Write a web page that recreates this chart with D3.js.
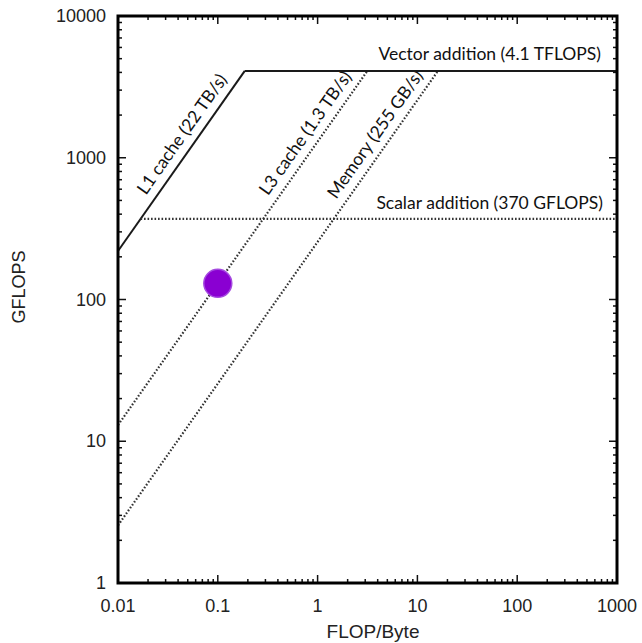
<!DOCTYPE html>
<html>
<head>
<meta charset="utf-8">
<script src="https://cdn.jsdelivr.net/npm/d3@7"></script>
<style>
  body { margin: 0; background: #fff; }
  svg { display: block; }
  .tick-label { font-family: "Liberation Sans", Arial, sans-serif; font-size: 18px; fill: #222; }
  .note { font-family: Lato, "Open Sans", sans-serif; font-size: 17.5px; fill: #111; }
</style>
</head>
<body>
<svg id="chart" width="642" height="643"></svg>
<script>
// axis ticks
var xTicks = [0.01, 0.1, 1, 10, 100, 1000];
var yTicks = [1, 10, 100, 1000, 10000];

// bandwidth roofs (GB/s) - slanted lines
var roofNames = ["L1 cache (22 TB/s)", "L3 cache (1.3 TB/s)", "Memory (255 GB/s)"];
var roofBandwidth = [22000, 1300, 255];
var roofLabelAt = [0.058, 1.0, 5.0];   // FLOP/Byte where the label sits

// compute ceilings (GFLOPS) - flat lines
var ceilingNames = ["Vector addition (4.1 TFLOPS)", "Scalar addition (370 GFLOPS)"];
var ceilingPeak = [4100, 370];

// measured kernel
var pointX = [0.1];
var pointY = [130];

var svg = d3.select("#chart");
// note: "top" is taken by window.top, so use pl/pr/pt/pb
var pl = 118, pr = 617, pt = 16, pb = 583;

var x = d3.scaleLog().domain([0.01, 1000]).range([pl, pr]);
var y = d3.scaleLog().domain([1, 10000]).range([pb, pt]);

var minorX = x.ticks().filter(function(d) { return xTicks.indexOf(d) < 0; });
var minorY = y.ticks().filter(function(d) { return yTicks.indexOf(d) < 0; });

var g = svg.append("g");

function styleLine(line, solid) {
    if (solid) {
        line.attr("stroke", "#1a1a1a").attr("stroke-width", 2);
    } else {
        line.attr("stroke", "#333").attr("stroke-width", 2.2).attr("stroke-dasharray", "1.6,1.9");
    }
}

// roofs
var maxPeak = ceilingPeak[0];
roofBandwidth.forEach(function(bw, i) {
    var x0 = x.domain()[0];
    var x1 = maxPeak / bw;
    var line = g.append("line")
        .attr("x1", x(x0)).attr("y1", y(bw * x0))
        .attr("x2", x(x1)).attr("y2", y(maxPeak));
    styleLine(line, i == 0);
    var ax = roofLabelAt[i];
    var px = x(ax), py = y(bw * ax);
    var angle = Math.atan2(y(bw * ax * 10) - py, x(ax * 10) - px) * 180 / Math.PI;
    g.append("text")
        .attr("class", "note")
        .attr("text-anchor", "middle")
        .attr("transform", "translate(" + px + "," + py + ") rotate(" + angle + ")")
        .attr("y", -9)
        .text(roofNames[i]);
});

// ceilings
ceilingPeak.forEach(function(p, i) {
    var x0 = p / roofBandwidth[0];
    var line = g.append("line")
        .attr("x1", x(x0)).attr("y1", y(p))
        .attr("x2", x(1000)).attr("y2", y(p));
    styleLine(line, i == 0);
});
g.append("text").attr("class", "note").attr("text-anchor", "end")
    .attr("x", 601).attr("y", y(ceilingPeak[0]) - 11).text(ceilingNames[0]);
g.append("text").attr("class", "note").attr("text-anchor", "end")
    .attr("x", 603).attr("y", y(ceilingPeak[1]) - 10).text(ceilingNames[1]);

// point
g.selectAll("circle.pt").data(pointX).enter().append("circle")
    .attr("class", "pt")
    .attr("cx", function(d) { return x(d); })
    .attr("cy", function(d, i) { return y(pointY[i]); })
    .attr("r", 14)
    .attr("fill", "#8a00d2")
    .attr("stroke", "#a54ae0")
    .attr("stroke-width", 1.5);

// ticks on all four sides, pointing inward
var tk = svg.append("g").attr("stroke", "#111").attr("stroke-width", 1.5);
function tickMarks(vals, len) {
    vals.forEach(function(v) {
        tk.append("line").attr("x1", x(v)).attr("x2", x(v)).attr("y1", pb).attr("y2", pb - len);
        tk.append("line").attr("x1", x(v)).attr("x2", x(v)).attr("y1", pt).attr("y2", pt + len);
    });
}
function tickMarksY(vals, len) {
    vals.forEach(function(v) {
        tk.append("line").attr("y1", y(v)).attr("y2", y(v)).attr("x1", pl).attr("x2", pl + len);
        tk.append("line").attr("y1", y(v)).attr("y2", y(v)).attr("x1", pr).attr("x2", pr - len);
    });
}
tickMarks(xTicks, 8);
tickMarks(minorX, 4);
tickMarksY(yTicks, 8);
tickMarksY(minorY, 4);

// frame
svg.append("rect")
    .attr("x", pl).attr("y", pt)
    .attr("width", pr - pl).attr("height", pb - pt)
    .attr("fill", "none").attr("stroke", "#000").attr("stroke-width", 3);

// tick labels
svg.selectAll("text.xl").data(xTicks).enter().append("text")
    .attr("class", "tick-label").attr("text-anchor", "middle")
    .attr("x", function(d) { return x(d); }).attr("y", 612)
    .text(function(d) { return d3.format("~g")(d); });
svg.selectAll("text.yl").data(yTicks).enter().append("text")
    .attr("class", "tick-label").attr("text-anchor", "end")
    .attr("x", 106).attr("y", function(d) { return y(d) + 6; })
    .text(function(d) { return d; });

// axis titles
svg.append("text").attr("class", "tick-label").attr("text-anchor", "middle")
    .attr("x", 373).attr("y", 638).style("font-size", "19px").text("FLOP/Byte");
svg.append("text").attr("class", "tick-label").attr("text-anchor", "middle")
    .attr("transform", "translate(25,287) rotate(-90)").style("font-size", "18px").text("GFLOPS");
</script>
</body>
</html>
